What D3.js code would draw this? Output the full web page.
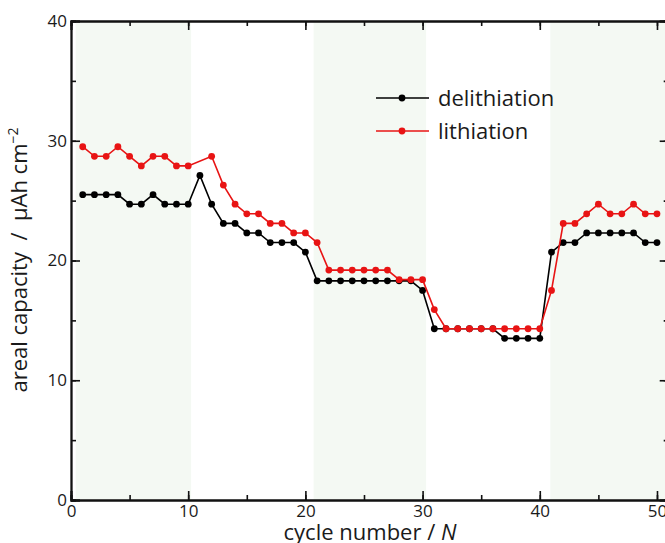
<!DOCTYPE html>
<html>
<head>
<meta charset="utf-8">
<script src="https://cdn.jsdelivr.net/npm/d3@7"></script>
<style>
  html, body { margin: 0; padding: 0; background: #fff; }
  svg { display: block; }
  text { font-family: "Open Sans", "DejaVu Sans", sans-serif; fill: #1a1a1a; }
</style>
</head>
<body>
<svg id="chart" width="665" height="543"></svg>
<script>
// Cycle numbers 1..50
const cycles = [1,2,3,4,5,6,7,8,9,10,11,12,13,14,15,16,17,18,19,20,21,22,23,24,25,
                26,27,28,29,30,31,32,33,34,35,36,37,38,39,40,41,42,43,44,45,46,47,48,49,50];

// Areal capacity (µAh cm^-2) on delithiation
const delithiation = [25.5,25.5,25.5,25.5,24.7,24.7,25.5,24.7,24.7,24.7,
                      27.1,24.7,23.1,23.1,22.3,22.3,21.5,21.5,21.5,20.7,
                      18.3,18.3,18.3,18.3,18.3,18.3,18.3,18.3,18.3,17.5,
                      14.3,14.3,14.3,14.3,14.3,14.3,13.5,13.5,13.5,13.5,
                      20.7,21.5,21.5,22.3,22.3,22.3,22.3,22.3,21.5,21.5];

// Areal capacity (µAh cm^-2) on lithiation (no reading at cycle 11)
const lithiation = [29.5,28.7,28.7,29.5,28.7,27.9,28.7,28.7,27.9,27.9,
                    null,28.7,26.3,24.7,23.9,23.9,23.1,23.1,22.3,22.3,
                    21.5,19.2,19.2,19.2,19.2,19.2,19.2,18.4,18.4,18.4,
                    15.9,14.3,14.3,14.3,14.3,14.3,14.3,14.3,14.3,14.3,
                    17.5,23.1,23.1,23.9,24.7,23.9,23.9,24.7,23.9,23.9];

// Shaded cycle blocks
const bands = [[0.4, 10.25], [20.7, 30.3], [40.9, 51]];

const xTicks = [0, 10, 20, 30, 40, 50];
const yTicks = [0, 10, 20, 30, 40];

const seriesList = [
  { name: "delithiation", values: delithiation, color: "#000000" },
  { name: "lithiation",   values: lithiation,   color: "#e81414" }
];

const svg = d3.select("#chart");
const x = d3.scaleLinear().domain([0, 51]).range([71, 668.7]);
const y = d3.scaleLinear().domain([0, 40]).range([500, 21]);

// background blocks
svg.append("g").selectAll("rect").data(bands).join("rect")
  .attr("x", d => x(d[0]))
  .attr("width", d => x(d[1]) - x(d[0]))
  .attr("y", y(40))
  .attr("height", y(0) - y(40))
  .attr("fill", "#f4f9f3");

// series lines and markers
seriesList.forEach(s => {
  const pts = cycles.map((c, i) => ({ c, v: s.values[i] })).filter(p => p.v != null);
  svg.append("path")
    .datum(pts)
    .attr("fill", "none")
    .attr("stroke", s.color)
    .attr("stroke-width", 1.6)
    .attr("d", d3.line().x(p => x(p.c)).y(p => y(p.v)));
  svg.append("g").selectAll("circle").data(pts).join("circle")
    .attr("cx", p => x(p.c))
    .attr("cy", p => y(p.v))
    .attr("r", 3.4)
    .attr("fill", s.color);
});

// axes: ticks point inward on all four sides
const minorX = d3.range(0, 51, 5);
const minorY = d3.range(0, 41, 5);
function styleAxis(g) {
  g.select(".domain").attr("stroke", "#111").attr("stroke-width", 1.8);
  g.selectAll(".tick line").attr("stroke", "#111").attr("stroke-width", 1.6);
}
// minor tick sets
svg.append("g").attr("transform", `translate(0,${y(0)})`)
  .call(d3.axisBottom(x).tickValues(minorX).tickSize(-5).tickFormat(""))
  .call(styleAxis);
svg.append("g").attr("transform", `translate(0,${y(40)})`)
  .call(d3.axisTop(x).tickValues(minorX).tickSize(-5).tickFormat(""))
  .call(styleAxis);
svg.append("g").attr("transform", `translate(${x(0)},0)`)
  .call(d3.axisLeft(y).tickValues(minorY).tickSize(-5).tickFormat(""))
  .call(styleAxis);
svg.append("g").attr("transform", `translate(${x(51)},0)`)
  .call(d3.axisRight(y).tickValues(minorY).tickSize(-5).tickFormat(""))
  .call(styleAxis);

// major ticks with labels
const xAxisG = svg.append("g").attr("transform", `translate(0,${y(0)})`)
  .call(d3.axisBottom(x).tickValues(xTicks).tickSize(-9).tickPadding(5).tickFormat(d3.format("d")))
  .call(styleAxis);
xAxisG.selectAll(".tick text").attr("font-size", 17).attr("fill", "#1a1a1a")
  .attr("font-family", "'Open Sans', sans-serif");
const yAxisG = svg.append("g").attr("transform", `translate(${x(0)},0)`)
  .call(d3.axisLeft(y).tickValues(yTicks).tickSize(-9).tickPadding(4).tickFormat(d3.format("d")))
  .call(styleAxis);
yAxisG.selectAll(".tick text").attr("font-size", 17).attr("fill", "#1a1a1a")
  .attr("font-family", "'Open Sans', sans-serif");
svg.append("g").attr("transform", `translate(0,${y(40)})`)
  .call(d3.axisTop(x).tickValues(xTicks).tickSize(-9).tickFormat(""))
  .call(styleAxis);
svg.append("g").attr("transform", `translate(${x(51)},0)`)
  .call(d3.axisRight(y).tickValues(yTicks).tickSize(-9).tickFormat(""))
  .call(styleAxis);

// axis titles
const xt = svg.append("text")
  .attr("x", 370).attr("y", 540)
  .attr("text-anchor", "middle")
  .attr("font-size", 22)
  .style("white-space", "pre");
xt.append("tspan").text("cycle number / ");
xt.append("tspan").attr("font-style", "italic").text("N");

const yt = svg.append("text")
  .attr("transform", "translate(27,260) rotate(-90)")
  .attr("text-anchor", "middle")
  .attr("font-size", 22)
  .style("white-space", "pre");
yt.append("tspan").text("areal capacity  /  µAh cm");
yt.append("tspan").attr("font-size", 14).attr("dy", -9).text("−2");

// legend
const legend = svg.append("g");
seriesList.forEach((s, i) => {
  const ly = 98 + i * 33;
  legend.append("line")
    .attr("x1", 376).attr("x2", 429).attr("y1", ly).attr("y2", ly)
    .attr("stroke", s.color).attr("stroke-width", 1.6);
  legend.append("circle").attr("cx", 402).attr("cy", ly).attr("r", 3.4).attr("fill", s.color);
  legend.append("text")
    .attr("x", 438).attr("y", ly + 7.5)
    .attr("font-size", 22)
    .text(s.name);
});
</script>
</body>
</html>
